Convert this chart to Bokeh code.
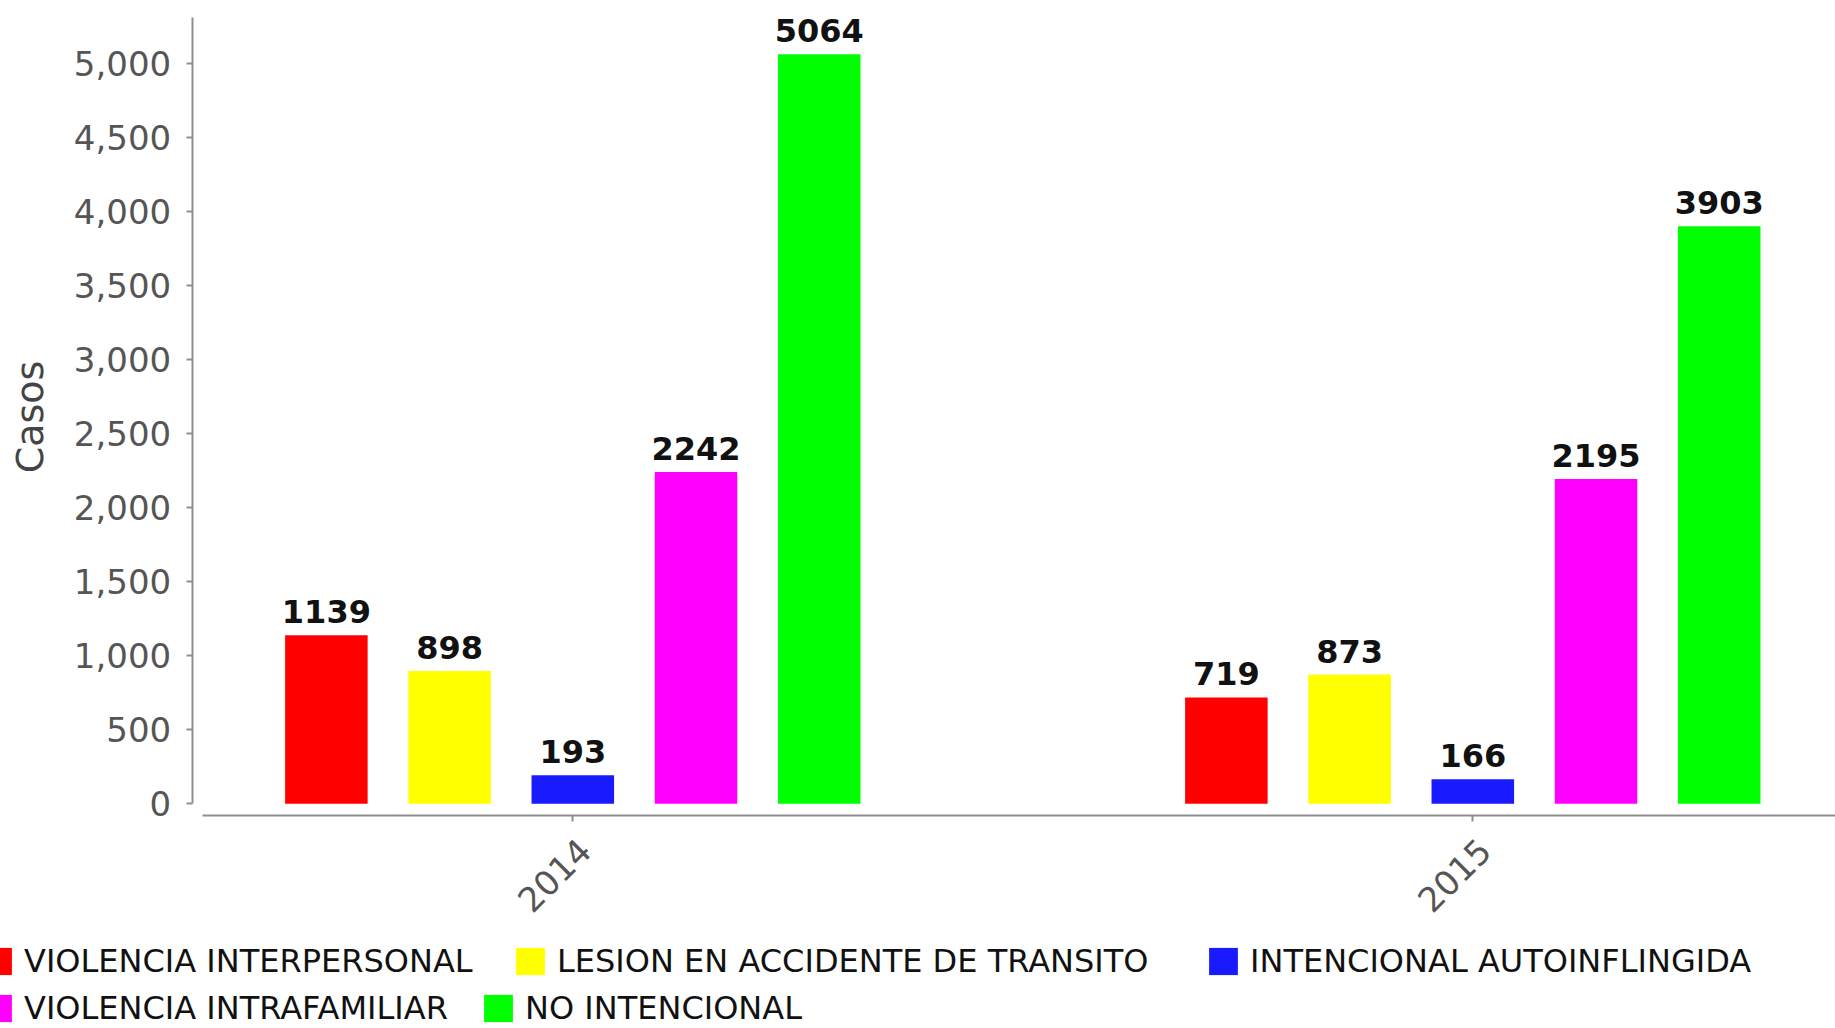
import math
from bokeh.plotting import figure
from bokeh.models import (ColumnDataSource, Range1d, FixedTicker, NumeralTickFormatter,
                          Legend, LegendItem, LabelSet, LinearAxis, Label)
from bokeh.transform import dodge
from bokeh.core.properties import value
from bokeh.embed import file_html
from bokeh.resources import INLINE

# ---------------- data ----------------
years = ["2014", "2015"]
series_names = [
    "VIOLENCIA INTERPERSONAL",
    "LESION EN ACCIDENTE DE TRANSITO",
    "INTENCIONAL AUTOINFLINGIDA",
    "VIOLENCIA INTRAFAMILIAR",
    "NO INTENCIONAL",
]
violencia_interpersonal = [1139, 719]
lesion_accidente_transito = [898, 873]
intencional_autoinflingida = [193, 166]
violencia_intrafamiliar = [2242, 2195]
no_intencional = [5064, 3903]
series_values = [violencia_interpersonal, lesion_accidente_transito,
                 intencional_autoinflingida, violencia_intrafamiliar, no_intencional]
series_colors = ["#ff0000", "#ffff00", "#1a1aff", "#ff00ff", "#00ff00"]
y_ticks = [0, 500, 1000, 1500, 2000, 2500, 3000, 3500, 4000, 4500, 5000]
y_axis_title = "Casos"

# ---------------- layout (frame = whole canvas, axes at fixed places) ----------------
W, H = 1835, 1028
X_START, X_END = -0.6359, 1.4030
Y_START, Y_END = -1518.2, 5427.7
X_AXIS_AT = -79.0          # where the category axis runs (just below zero)
Y_AXIS_AT = -0.4229        # where the value axis runs
X_AXIS_FROM = -0.4118
Y_AXIS_TOP = 5315
PITCH, BAR_W = 0.1369, 0.0917
LABEL_SHIFT = 0.0133
FONT = "DejaVu Sans"

p = figure(width=W, height=H, output_backend="svg", toolbar_location=None,
           x_range=Range1d(X_START, X_END), y_range=Range1d(Y_START, Y_END),
           min_border_left=0, min_border_right=0, min_border_top=0,
           min_border_bottom=0)
p.min_border = 0
p.xgrid.visible = False
p.ygrid.visible = False
p.outline_line_color = None

idx = list(range(len(years)))
n = len(series_names)
renderers = []
for j, (name, vals, col) in enumerate(zip(series_names, series_values, series_colors)):
    src = ColumnDataSource(dict(x=idx, top=vals, label=[str(v) for v in vals]))
    off = (j - (n - 1) / 2) * PITCH
    r = p.vbar(x=dodge("x", off, range=p.x_range), top="top", bottom=0, width=BAR_W,
               source=src, fill_color=col, line_color=None)
    renderers.append(r)
    labels = LabelSet(x=dodge("x", off, range=p.x_range), y="top", text="label",
                      source=src, y_offset=12, text_align="center",
                      text_baseline="alphabetic", text_font=value(FONT),
                      text_font_style="bold", text_font_size="32px",
                      text_color="#111111")
    p.add_layout(labels)

axis_color = "#8f8f8f"
label_color = "#555555"

# category axis: line + ticks
xa = p.xaxis[0]
xa.fixed_location = X_AXIS_AT
xa.ticker = FixedTicker(ticks=idx)
xa.bounds = (X_AXIS_FROM, X_END)
xa.axis_line_color = axis_color
xa.axis_line_width = 2
xa.major_tick_line_color = axis_color
xa.major_tick_line_width = 2
xa.major_tick_in = 0
xa.major_tick_out = 6
xa.minor_tick_line_color = None
xa.major_label_text_color = None

# category labels, rotated, sitting just right of their ticks as in the reference
xl = LinearAxis(fixed_location=X_AXIS_AT,
                ticker=FixedTicker(ticks=[i + LABEL_SHIFT for i in idx]),
                major_label_overrides={i + LABEL_SHIFT: y for i, y in zip(idx, years)},
                major_label_orientation=math.pi / 4,
                axis_line_color=None, major_tick_line_color=None,
                minor_tick_line_color=None, major_tick_in=0, major_tick_out=6,
                major_label_standoff=23, major_label_text_font=FONT,
                major_label_text_font_size="34px", major_label_text_color=label_color)
p.add_layout(xl, "below")

ya = p.yaxis[0]
ya.fixed_location = Y_AXIS_AT
ya.ticker = FixedTicker(ticks=y_ticks)
ya.formatter = NumeralTickFormatter(format="0,0")
ya.bounds = (0, Y_AXIS_TOP)
ya.axis_line_color = axis_color
ya.axis_line_width = 2
ya.major_tick_line_color = axis_color
ya.major_tick_line_width = 2
ya.major_tick_in = 0
ya.major_tick_out = 6
ya.minor_tick_line_color = None
ya.major_label_text_font = FONT
ya.major_label_text_font_size = "34px"
ya.major_label_text_color = label_color
ya.major_label_standoff = 15

# value-axis title, placed where the reference has it
p.add_layout(Label(x=29, y=611.5, x_units="screen", y_units="screen",
                   text=y_axis_title, angle=math.pi / 2, text_align="center",
                   text_baseline="alphabetic", text_font=FONT,
                   text_font_size="38px", text_color="#444444"))

# legends: one per item, flowing in two rows as in the reference
leg_pos = [(-21, 48), (512, 48), (1205, 48), (-21, 1), (480, 1)]
for r, name, (lx, ly) in zip(renderers, series_names, leg_pos):
    leg = Legend(items=[LegendItem(label=name, renderers=[r])], location=(lx, ly),
                 orientation="horizontal", padding=0, margin=0, spacing=0,
                 border_line_color=None, background_fill_alpha=0,
                 glyph_width=36, glyph_height=34, label_standoff=9,
                 label_text_font=FONT, label_text_font_size="32px",
                 label_text_color="#111111")
    p.add_layout(leg, "center")

open("out.html", "w").write(file_html(p, INLINE))
